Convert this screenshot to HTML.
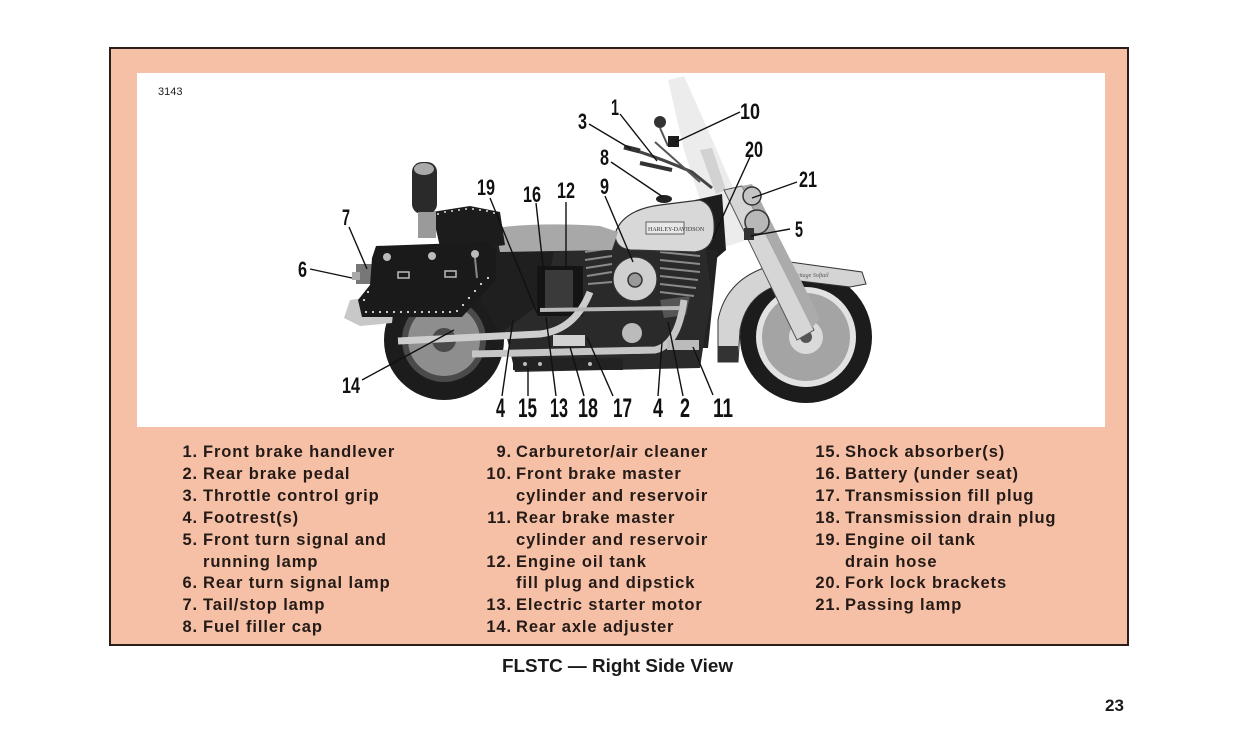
<!DOCTYPE html>
<html><head><meta charset="utf-8">
<style>
html,body{margin:0;padding:0;background:#fff;}
svg{display:block;}
.t{font-family:"Liberation Sans",Arial,sans-serif;font-weight:bold;font-size:16.5px;fill:#241a17;letter-spacing:0.9px;}
.n{font-family:"Liberation Sans",Arial,sans-serif;font-weight:bold;fill:#111;}
.ln{stroke:#111;stroke-width:1.4;fill:none;}
</style></head><body>
<svg width="1241" height="750" viewBox="0 0 1241 750" xmlns="http://www.w3.org/2000/svg">
<rect x="0" y="0" width="1241" height="750" fill="#fff"/>
<rect x="110" y="48" width="1018" height="597" fill="#f5c0a6" stroke="#2b1d18" stroke-width="2"/>
<rect x="137" y="73" width="968" height="354" fill="#fff"/>
<text x="158" y="95" font-family="Liberation Sans, Arial, sans-serif" font-size="11" fill="#222">3143</text>

<!-- ===== MOTORCYCLE ===== -->
<!-- windshield -->
<path d="M668 80 L684 76 L708 130 L734 190 L746 240 L722 248 L700 200 L684 150 Z" fill="#ececec"/>
<path d="M700 150 L712 148 L726 190 L716 194 Z" fill="#d2d2d2"/>

<!-- rear tire -->
<circle cx="444" cy="340" r="60" fill="#1c1c1c"/>
<circle cx="444" cy="340" r="42" fill="#4a4a4a"/>
<circle cx="444" cy="340" r="36" fill="#8e8e8e"/>
<circle cx="444" cy="340" r="12" fill="#4a4a4a"/>

<!-- front tire -->
<circle cx="806" cy="337" r="66" fill="#1c1c1c"/>
<circle cx="806" cy="337" r="50" fill="#e2e2e2"/>
<circle cx="806" cy="337" r="44" fill="#a4a4a4"/>
<circle cx="806" cy="337" r="17" fill="#dadada"/>
<circle cx="806" cy="337" r="6" fill="#555"/>

<!-- front fender -->
<path d="M718 362 L718 320 Q728 270 790 262 L862 272 L866 284 L850 287 L800 281 Q748 285 740 330 L738 362 Z" fill="#d4d4d4" stroke="#333" stroke-width="1"/>
<rect x="718" y="346" width="20" height="16" fill="#333"/>
<text x="790" y="277" font-family="Liberation Serif, serif" font-style="italic" font-size="6" fill="#555">Heritage Softail</text>

<!-- fork -->
<path d="M724 190 L742 186 L814 330 L797 340 Z" fill="#d6d6d6" stroke="#555" stroke-width="1"/>
<path d="M742 186 L752 184 L820 318 L812 328 Z" fill="#ababab"/>

<!-- headlamp / passing lamps -->
<circle cx="752" cy="196" r="9" fill="#c4c4c4" stroke="#333" stroke-width="1.5"/>
<circle cx="757" cy="222" r="12" fill="#b8b8b8" stroke="#333" stroke-width="1.5"/>
<rect x="744" y="228" width="10" height="12" fill="#333"/>

<!-- steering neck / downtube -->
<path d="M695 200 L722 194 L726 250 L712 262 L698 255 Z" fill="#1d1d1d"/>
<path d="M700 250 L718 250 L708 348 L692 348 Z" fill="#222"/>

<!-- under-seat dark mass -->
<path d="M482 240 L560 244 L592 238 L590 335 L520 340 L498 330 L480 300 Z" fill="#1f1f1f"/>

<!-- engine dark mass -->
<path d="M555 245 L590 235 L640 238 L705 245 L712 300 L705 335 L700 368 L515 372 L505 330 L545 300 Z" fill="#2a2a2a"/>
<!-- cylinder fins -->
<g stroke="#8a8a8a" stroke-width="2">
<line x1="585" y1="252" x2="612" y2="248"/>
<line x1="585" y1="260" x2="612" y2="256"/>
<line x1="586" y1="268" x2="612" y2="264"/>
<line x1="587" y1="276" x2="612" y2="272"/>
<line x1="588" y1="284" x2="612" y2="282"/>
<line x1="660" y1="252" x2="700" y2="256"/>
<line x1="660" y1="260" x2="700" y2="264"/>
<line x1="660" y1="268" x2="700" y2="272"/>
<line x1="660" y1="276" x2="698" y2="280"/>
<line x1="660" y1="284" x2="696" y2="288"/>
<line x1="660" y1="292" x2="694" y2="296"/>
</g>
<!-- battery / oil tank -->
<rect x="537" y="266" width="46" height="50" fill="#141414"/>
<rect x="545" y="270" width="28" height="40" fill="#3a3a3a"/>

<!-- tank -->
<path d="M615 234 Q622 210 660 205 L700 200 Q716 205 714 232 Q712 250 695 252 L630 250 Q615 248 615 234 Z" fill="#d8d8d8" stroke="#333" stroke-width="1.2"/>
<rect x="646" y="222" width="38" height="12" fill="#e8e8e8" stroke="#444" stroke-width="0.8"/>
<text x="648" y="231" font-family="Liberation Serif, serif" font-size="6" fill="#333">HARLEY-DAVIDSON</text>
<ellipse cx="664" cy="199" rx="8" ry="4" fill="#222"/>

<!-- air cleaner -->
<circle cx="635" cy="279" r="22" fill="#d0d0d0" stroke="#333" stroke-width="1.2"/>
<circle cx="635" cy="280" r="7" fill="#999" stroke="#333" stroke-width="1.5"/>
<circle cx="632" cy="333" r="10" fill="#bbb"/>
<path d="M660 300 L690 296 L686 315 L664 318 Z" fill="#555"/>

<!-- seat -->
<path d="M495 228 Q540 222 600 226 L618 232 L612 250 L500 252 Z" fill="#a8a8a8"/>
<path d="M432 212 L470 206 L500 212 L505 245 L470 250 L440 247 Z" fill="#1c1c1c"/>
<g fill="#ddd">
<circle cx="438" cy="214" r="1"/><circle cx="445" cy="212" r="1"/><circle cx="452" cy="211" r="1"/><circle cx="459" cy="210" r="1"/><circle cx="466" cy="209" r="1"/><circle cx="473" cy="209" r="1"/><circle cx="480" cy="210" r="1"/><circle cx="487" cy="211" r="1"/><circle cx="494" cy="213" r="1"/>
</g>
<!-- backrest -->
<rect x="412" y="162" width="25" height="52" rx="10" fill="#2a2a2a"/>
<ellipse cx="424" cy="169" rx="10" ry="6" fill="#aaa"/>
<rect x="418" y="212" width="18" height="26" fill="#9a9a9a"/>

<!-- rear chrome / tail -->
<path d="M350 300 L372 297 L394 305 L392 323 L360 326 L344 318 Z" fill="#c8c8c8"/>
<rect x="356" y="264" width="16" height="20" fill="#777"/>
<rect x="352" y="272" width="8" height="8" fill="#aaa"/>

<!-- saddlebag -->
<path d="M376 246 L488 242 L496 250 L496 280 L462 317 L362 317 L358 300 L370 285 L372 258 Z" fill="#1a1a1a"/>
<g fill="#ddd">
<circle cx="366" cy="312" r="1.1"/><circle cx="373" cy="312" r="1.1"/><circle cx="380" cy="312" r="1.1"/><circle cx="387" cy="312" r="1.1"/><circle cx="394" cy="312" r="1.1"/><circle cx="401" cy="312" r="1.1"/><circle cx="408" cy="312" r="1.1"/><circle cx="415" cy="312" r="1.1"/><circle cx="422" cy="312" r="1.1"/><circle cx="429" cy="312" r="1.1"/><circle cx="436" cy="312" r="1.1"/><circle cx="443" cy="312" r="1.1"/><circle cx="450" cy="312" r="1.1"/><circle cx="457" cy="311" r="1.1"/>
<circle cx="463" cy="305" r="1.1"/><circle cx="469" cy="298" r="1.1"/><circle cx="475" cy="291" r="1.1"/><circle cx="481" cy="284" r="1.1"/><circle cx="488" cy="278" r="1.1"/>
<circle cx="364" cy="300" r="1.1"/><circle cx="368" cy="292" r="1.1"/>
</g>
<circle cx="387" cy="257" r="4" fill="#bbb"/>
<circle cx="432" cy="256" r="4" fill="#bbb"/>
<circle cx="475" cy="254" r="4" fill="#bbb"/>
<rect x="398" y="272" width="11" height="6" fill="none" stroke="#bbb" stroke-width="1.5"/>
<rect x="445" y="271" width="11" height="6" fill="none" stroke="#bbb" stroke-width="1.5"/>
<line x1="475" y1="258" x2="477" y2="278" stroke="#888" stroke-width="2"/>

<!-- exhaust pipes -->
<path d="M398 341 L540 334 Q575 330 590 292" fill="none" stroke="#cdcdcd" stroke-width="7"/>
<path d="M472 354 L655 350 Q678 345 684 300" fill="none" stroke="#c6c6c6" stroke-width="7"/>
<line x1="540" y1="310" x2="680" y2="308" stroke="#b8b8b8" stroke-width="4"/>
<rect x="553" y="335" width="32" height="11" fill="#d2d2d2"/>
<rect x="667" y="340" width="32" height="10" fill="#bbb"/>
<rect x="513" y="358" width="110" height="12" fill="#222"/>
<g fill="#bbb"><circle cx="525" cy="364" r="2"/><circle cx="540" cy="364" r="2"/><circle cx="590" cy="364" r="2"/></g>

<!-- handlebars -->
<path d="M628 148 Q660 158 692 172 L712 188" fill="none" stroke="#444" stroke-width="3"/>
<path d="M655 142 L700 182" fill="none" stroke="#555" stroke-width="2"/>
<line x1="640" y1="163" x2="672" y2="170" stroke="#333" stroke-width="4"/>
<line x1="624" y1="147" x2="640" y2="151" stroke="#333" stroke-width="5"/>
<circle cx="660" cy="122" r="6" fill="#333"/>
<line x1="660" y1="128" x2="668" y2="146" stroke="#555" stroke-width="2"/>
<rect x="668" y="136" width="11" height="11" fill="#1e1e1e"/>

<!-- ===== LEADER LINES ===== -->
<g class="ln">
<line x1="589" y1="124" x2="631" y2="149"/>
<line x1="620" y1="114" x2="657" y2="161"/>
<line x1="740" y1="112" x2="676" y2="142"/>
<line x1="611" y1="162" x2="663" y2="197"/>
<line x1="750" y1="157" x2="713" y2="238"/>
<line x1="797" y1="182" x2="752" y2="198"/>
<line x1="790" y1="229" x2="751" y2="236"/>
<line x1="605" y1="196" x2="633" y2="262"/>
<line x1="566" y1="202" x2="566" y2="270"/>
<line x1="536" y1="203" x2="544" y2="275"/>
<line x1="490" y1="198" x2="537" y2="313"/>
<line x1="349" y1="227" x2="367" y2="269"/>
<line x1="310" y1="269" x2="352" y2="278"/>
<line x1="362" y1="380" x2="454" y2="330"/>
<line x1="502" y1="396" x2="513" y2="320"/>
<line x1="528" y1="396" x2="528" y2="367"/>
<line x1="556" y1="396" x2="546" y2="317"/>
<line x1="584" y1="396" x2="570" y2="347"/>
<line x1="613" y1="396" x2="587" y2="337"/>
<line x1="658" y1="396" x2="662" y2="342"/>
<line x1="683" y1="396" x2="668" y2="322"/>
<line x1="713" y1="395" x2="693" y2="347"/>
</g>

<!-- ===== CALLOUT NUMBERS ===== -->
<g class="n" font-size="22.5">
<text x="578" y="129" textLength="9" lengthAdjust="spacingAndGlyphs">3</text>
<text x="611" y="115" textLength="8" lengthAdjust="spacingAndGlyphs">1</text>
<text x="740" y="119" textLength="20" lengthAdjust="spacingAndGlyphs">10</text>
<text x="600" y="165" textLength="9" lengthAdjust="spacingAndGlyphs">8</text>
<text x="745" y="157" textLength="18" lengthAdjust="spacingAndGlyphs">20</text>
<text x="799" y="187" textLength="18" lengthAdjust="spacingAndGlyphs">21</text>
<text x="795" y="237" textLength="8" lengthAdjust="spacingAndGlyphs">5</text>
<text x="600" y="194" textLength="9" lengthAdjust="spacingAndGlyphs">9</text>
<text x="557" y="198" textLength="18" lengthAdjust="spacingAndGlyphs">12</text>
<text x="523" y="202" textLength="18" lengthAdjust="spacingAndGlyphs">16</text>
<text x="477" y="195" textLength="18" lengthAdjust="spacingAndGlyphs">19</text>
<text x="342" y="225" textLength="8" lengthAdjust="spacingAndGlyphs">7</text>
<text x="298" y="277" textLength="9" lengthAdjust="spacingAndGlyphs">6</text>
<text x="342" y="393" textLength="18" lengthAdjust="spacingAndGlyphs">14</text>
</g>
<g class="n" font-size="26.5">
<text x="496" y="417" textLength="9" lengthAdjust="spacingAndGlyphs">4</text>
<text x="518" y="417" textLength="19" lengthAdjust="spacingAndGlyphs">15</text>
<text x="550" y="417" textLength="18" lengthAdjust="spacingAndGlyphs">13</text>
<text x="578" y="417" textLength="20" lengthAdjust="spacingAndGlyphs">18</text>
<text x="613" y="417" textLength="19" lengthAdjust="spacingAndGlyphs">17</text>
<text x="653" y="417" textLength="10" lengthAdjust="spacingAndGlyphs">4</text>
<text x="680" y="417" textLength="10" lengthAdjust="spacingAndGlyphs">2</text>
<text x="713" y="417" textLength="20" lengthAdjust="spacingAndGlyphs">11</text>
</g>

<!-- ===== LEGEND ===== -->
<g class="t">
<text x="198" y="457" text-anchor="end">1.</text><text x="203" y="457">Front brake handlever</text>
<text x="198" y="479" text-anchor="end">2.</text><text x="203" y="479">Rear brake pedal</text>
<text x="198" y="501" text-anchor="end">3.</text><text x="203" y="501">Throttle control grip</text>
<text x="198" y="523" text-anchor="end">4.</text><text x="203" y="523">Footrest(s)</text>
<text x="198" y="545" text-anchor="end">5.</text><text x="203" y="545">Front turn signal and</text>
<text x="203" y="567">running lamp</text>
<text x="198" y="588" text-anchor="end">6.</text><text x="203" y="588">Rear turn signal lamp</text>
<text x="198" y="610" text-anchor="end">7.</text><text x="203" y="610">Tail/stop lamp</text>
<text x="198" y="632" text-anchor="end">8.</text><text x="203" y="632">Fuel filler cap</text>

<text x="512" y="457" text-anchor="end">9.</text><text x="516" y="457">Carburetor/air cleaner</text>
<text x="512" y="479" text-anchor="end">10.</text><text x="516" y="479">Front brake master</text>
<text x="516" y="501">cylinder and reservoir</text>
<text x="512" y="523" text-anchor="end">11.</text><text x="516" y="523">Rear brake master</text>
<text x="516" y="545">cylinder and reservoir</text>
<text x="512" y="567" text-anchor="end">12.</text><text x="516" y="567">Engine oil tank</text>
<text x="516" y="588">fill plug and dipstick</text>
<text x="512" y="610" text-anchor="end">13.</text><text x="516" y="610">Electric starter motor</text>
<text x="512" y="632" text-anchor="end">14.</text><text x="516" y="632">Rear axle adjuster</text>

<text x="841" y="457" text-anchor="end">15.</text><text x="845" y="457">Shock absorber(s)</text>
<text x="841" y="479" text-anchor="end">16.</text><text x="845" y="479">Battery (under seat)</text>
<text x="841" y="501" text-anchor="end">17.</text><text x="845" y="501">Transmission fill plug</text>
<text x="841" y="523" text-anchor="end">18.</text><text x="845" y="523">Transmission drain plug</text>
<text x="841" y="545" text-anchor="end">19.</text><text x="845" y="545">Engine oil tank</text>
<text x="845" y="567">drain hose</text>
<text x="841" y="588" text-anchor="end">20.</text><text x="845" y="588">Fork lock brackets</text>
<text x="841" y="610" text-anchor="end">21.</text><text x="845" y="610">Passing lamp</text>
</g>

<!-- caption & page number -->
<text x="502" y="672" font-family="Liberation Sans, Arial, sans-serif" font-weight="bold" font-size="18.5" fill="#1a1a1a" textLength="231" lengthAdjust="spacingAndGlyphs">FLSTC — Right Side View</text>
<text x="1105" y="711" font-family="Liberation Sans, Arial, sans-serif" font-weight="bold" font-size="17" fill="#1a1a1a">23</text>
</svg>
</body></html>
